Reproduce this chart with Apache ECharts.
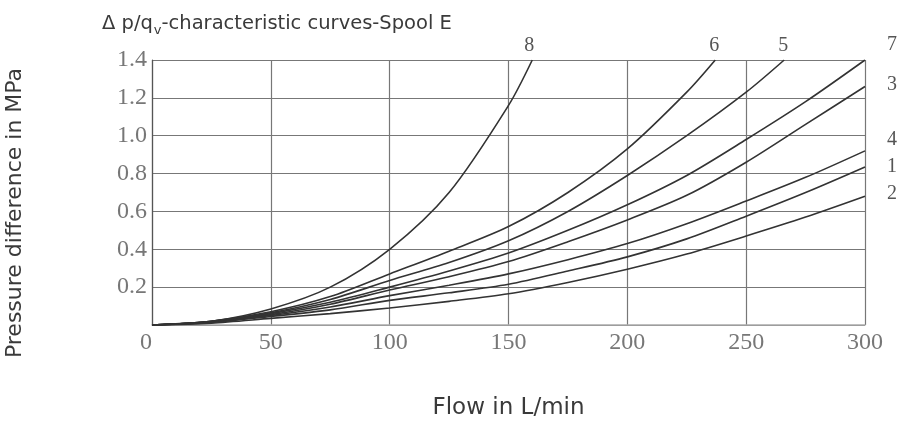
<!DOCTYPE html>
<html>
<head>
<meta charset="utf-8">
<script src="https://cdn.jsdelivr.net/npm/echarts@6/dist/echarts.min.js"></script>
<style>
  html, body { margin: 0; padding: 0; background: #fff; }
  #main { width: 897px; height: 425px; }
</style>
</head>
<body>
<div id="main"></div>
<script>
// flow (L/min) and pressure difference (MPa) per curve
var flow8 = [0, 25, 50, 75, 100, 125, 150, 160];
var dp8   = [0, 0.02, 0.085, 0.2, 0.4, 0.7, 1.16, 1.4];

var flow6 = [0, 25, 50, 75, 100, 125, 150, 175, 200, 225, 237];
var dp6   = [0, 0.02, 0.07, 0.15, 0.27, 0.39, 0.52, 0.7, 0.93, 1.23, 1.4];

var flow5 = [0, 25, 50, 75, 100, 125, 150, 175, 200, 225, 250, 266];
var dp5   = [0, 0.02, 0.065, 0.135, 0.235, 0.33, 0.445, 0.6, 0.79, 1.0, 1.23, 1.4];

var flowFull = [0, 25, 50, 75, 100, 125, 150, 175, 200, 225, 250, 275, 300];
var dp7 = [0, 0.018, 0.06, 0.12, 0.2, 0.285, 0.38, 0.5, 0.635, 0.79, 0.98, 1.18, 1.4];
var dp3 = [0, 0.017, 0.055, 0.11, 0.185, 0.255, 0.335, 0.44, 0.555, 0.685, 0.86, 1.06, 1.26];
var dp4 = [0, 0.015, 0.05, 0.095, 0.155, 0.21, 0.27, 0.345, 0.43, 0.535, 0.655, 0.78, 0.92];
var dp1 = [0, 0.013, 0.045, 0.08, 0.13, 0.17, 0.215, 0.285, 0.36, 0.455, 0.575, 0.7, 0.835];
var dp2 = [0, 0.01, 0.035, 0.06, 0.09, 0.125, 0.165, 0.225, 0.295, 0.375, 0.47, 0.57, 0.68];

var curveNames = ['8', '6', '5', '7', '3', '4', '1', '2'];

function pairs(xs, ys) {
    return xs.map(function (x, i) { return [x, ys[i]]; });
}

var labelFont = 'Liberation Serif';
var textColor = '#3a3a3a';

function curve(name, data, labelOffset) {
    return {
        name: name,
        type: 'line',
        data: data,
        smooth: 0.3,
        symbol: 'none',
        lineStyle: { color: '#333', width: 1.6 },
        endLabel: {
            show: true,
            formatter: name,
            offset: labelOffset,
            fontFamily: labelFont,
            fontSize: 20,
            color: '#555'
        },
        silent: true,
        z: 3
    };
}

var chart = echarts.init(document.getElementById('main'), null, { renderer: 'canvas' });

var option = {
    animation: false,
    backgroundColor: '#fff',
    title: {
        text: '{a|\u0394 p/q}{b|v}{a|-characteristic curves-Spool E}',
        left: 97,
        top: 5,
        textStyle: {
            rich: {
                a: { fontFamily: 'DejaVu Sans', fontWeight: 'normal', fontSize: 19.5, color: textColor },
                b: { fontFamily: 'DejaVu Sans', fontWeight: 'normal', fontSize: 13, color: textColor, padding: [14, 0, 0, 1] }
            }
        }
    },
    grid: { left: 152, right: 32, top: 60, bottom: 92 },
    xAxis: {
        type: 'value',
        min: 0,
        max: 300,
        interval: 50,
        name: 'Flow in L/min',
        nameLocation: 'middle',
        nameGap: 72,
        nameTextStyle: { fontFamily: 'DejaVu Sans', fontSize: 23, color: textColor },
        axisLine: { show: true, lineStyle: { color: '#aaa', width: 1.5 } },
        axisTick: { show: false },
        axisLabel: {
            margin: 6,
            fontFamily: labelFont,
            fontSize: 24,
            color: '#777',
            alignMinLabel: 'right'
        },
        splitLine: { show: true, lineStyle: { color: '#777', width: 1.2 } }
    },
    yAxis: {
        type: 'value',
        min: 0,
        max: 1.4,
        interval: 0.2,
        axisLine: { show: true, lineStyle: { color: '#555', width: 1.2 } },
        axisTick: { show: false },
        axisLabel: {
            margin: 5,
            fontFamily: labelFont,
            fontSize: 24,
            color: '#777',
            formatter: function (v) { return v === 0 ? '' : v.toFixed(1); }
        },
        splitLine: { show: true, lineStyle: { color: '#777', width: 1.2 } }
    },
    graphic: [{
        type: 'text',
        x: 15,
        y: 213,
        rotation: Math.PI / 2,
        style: {
            text: 'Pressure difference in MPa',
            fontFamily: 'DejaVu Sans',
            fontSize: 22,
            fill: textColor,
            align: 'center',
            verticalAlign: 'middle'
        }
    }],
    series: [
        curve(curveNames[0], pairs(flow8, dp8), [-16, -14]),
        curve(curveNames[1], pairs(flow6, dp6), [-14, -14]),
        curve(curveNames[2], pairs(flow5, dp5), [-14, -14]),
        curve(curveNames[3], pairs(flowFull, dp7), [14, -15]),
        curve(curveNames[4], pairs(flowFull, dp3), [14, -2]),
        curve(curveNames[5], pairs(flowFull, dp4), [14, -11]),
        curve(curveNames[6], pairs(flowFull, dp1), [14, 0]),
        curve(curveNames[7], pairs(flowFull, dp2), [14, -3])
    ]
};

chart.setOption(option);
</script>
</body>
</html>
